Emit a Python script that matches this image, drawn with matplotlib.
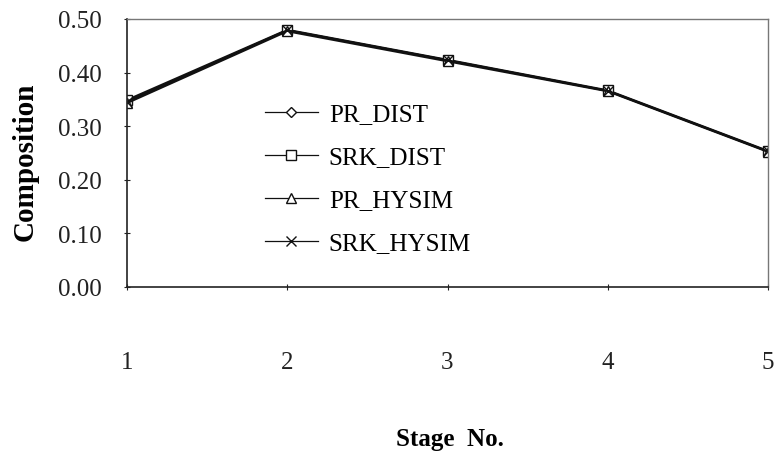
import matplotlib
matplotlib.use("Agg")
import matplotlib.pyplot as plt

plt.rcParams["font.family"] = ["Liberation Serif", "DejaVu Serif"]

stages = [1, 2, 3, 4, 5]
pr_dist = [0.346, 0.479, 0.423, 0.366, 0.253]
srk_dist = [0.349, 0.480, 0.424, 0.367, 0.254]
pr_hysim = [0.343, 0.477, 0.421, 0.365, 0.252]
srk_hysim = [0.346, 0.479, 0.423, 0.366, 0.253]
y_ticks = [0.0, 0.1, 0.2, 0.3, 0.4, 0.5]

series = [
    ("PR_DIST", pr_dist, "D", 5.5),
    ("SRK_DIST", srk_dist, "s", 7),
    ("PR_HYSIM", pr_hysim, "^", 7),
    ("SRK_HYSIM", srk_hysim, "x", 7.5),
]

fig = plt.figure(figsize=(7.77, 4.56), dpi=100)
ax = fig.add_axes([127 / 777, 1 - 288 / 456, 641 / 777, 268 / 456])

for name, vals, mk, ms in series:
    ax.plot(stages, vals, color="#111111", lw=1.4, marker=mk, ms=ms,
            mfc="white", mec="#111111", mew=1.0, label=name)

ax.set_xlim(1, 5)
ax.set_ylim(0, 0.5)
ax.set_xticks(stages)
ax.set_yticks(y_ticks)
ax.set_yticklabels([f"{v:.2f}" for v in y_ticks])
ax.tick_params(axis="both", direction="inout", length=4, width=0.8,
               labelsize=18, colors="#222222")
ax.tick_params(axis="y", pad=16)
ax.tick_params(axis="x", pad=44)

for side in ["left", "bottom"]:
    ax.spines[side].set_color("#222222")
    ax.spines[side].set_linewidth(1.2)
for side in ["top", "right"]:
    ax.spines[side].set_color("#777777")
    ax.spines[side].set_linewidth(1.0)

fig.text(25 / 777, 1 - 162 / 456, "Composition", rotation=90, fontsize=21,
         fontweight="bold", ha="center", va="center")
fig.text(450 / 777, 1 - 440 / 456, "Stage  No.", fontsize=18,
         fontweight="bold", ha="center", va="center")

leg = ax.legend(loc="upper left", bbox_to_anchor=(265 / 777, 1 - 104 / 456),
                bbox_transform=fig.transFigure, frameon=False, fontsize=18,
                handlelength=2.1, handletextpad=0.45, labelspacing=0.82,
                borderpad=0, borderaxespad=0, numpoints=1)
for h in leg.get_lines():
    h.set_linewidth(0.9)

fig.savefig("out.png", dpi=100)
